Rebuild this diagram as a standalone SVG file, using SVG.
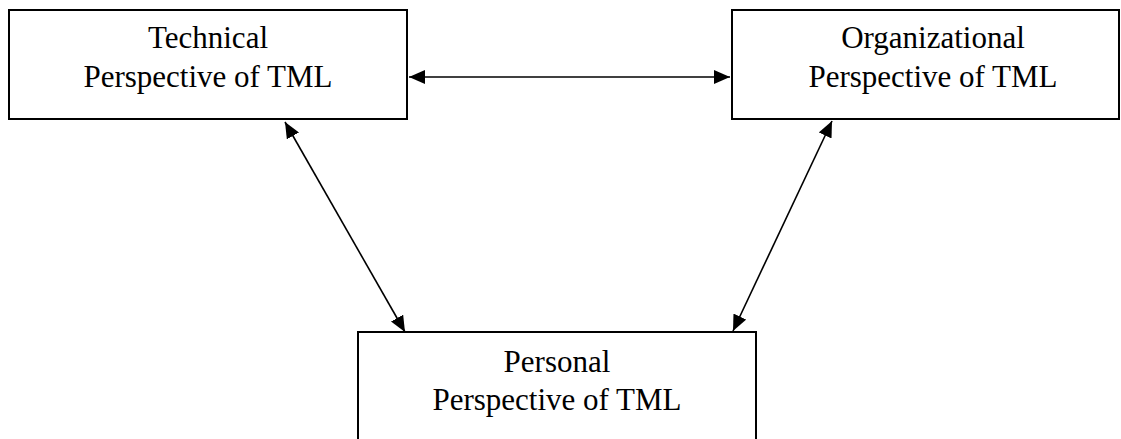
<svg xmlns="http://www.w3.org/2000/svg" width="1121" height="439" viewBox="0 0 1121 439">
<style>
.box{fill:#fff;stroke:#000;stroke-width:2}
.lbl{font-family:"Liberation Serif","Times New Roman",serif;font-size:31px;fill:#000;text-anchor:middle}
.conn{stroke:#000;stroke-width:1.6;fill:none;marker-start:url(#ah);marker-end:url(#ah)}
</style>
<defs>
<marker id="ah" viewBox="0 0 16 14" refX="16" refY="7" markerWidth="16" markerHeight="14" markerUnits="userSpaceOnUse" orient="auto-start-reverse">
<path d="M0,0 L16,7 L0,14 Z" fill="#000"/>
</marker>
</defs>
<rect width="1121" height="439" fill="#fff"/>
<g id="connectors">
<line class="conn" x1="409" y1="77" x2="730" y2="77"/>
<line class="conn" x1="285" y1="122" x2="405" y2="332"/>
<line class="conn" x1="832" y1="121" x2="733" y2="331"/>
</g>
<g id="technical">
<rect class="box" x="9" y="10" width="398" height="109"/>
<text class="lbl" x="208" y="48">Technical</text>
<text class="lbl" x="208" y="87">Perspective of TML</text>
</g>
<g id="organizational">
<rect class="box" x="732" y="10" width="387" height="109"/>
<text class="lbl" x="933" y="48">Organizational</text>
<text class="lbl" x="933" y="87">Perspective of TML</text>
</g>
<g id="personal">
<rect class="box" x="358" y="332" width="398" height="120"/>
<text class="lbl" x="557" y="372">Personal</text>
<text class="lbl" x="557" y="410">Perspective of TML</text>
</g>
</svg>
